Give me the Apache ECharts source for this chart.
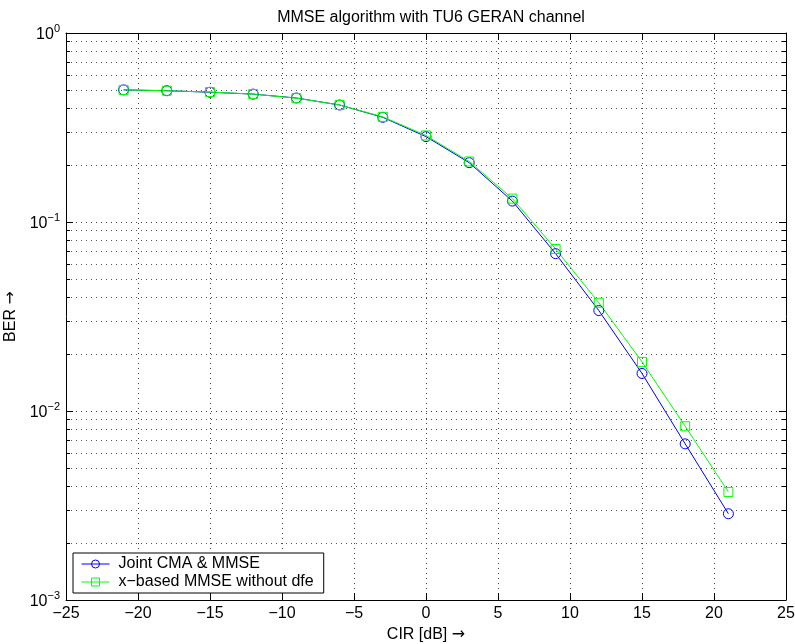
<!DOCTYPE html>
<html>
<head>
<meta charset="utf-8">
<script src="https://cdn.jsdelivr.net/npm/echarts@6/dist/echarts.min.js"></script>
<style>html,body{margin:0;padding:0;background:#fff}#c{width:795px;height:644px}</style>
</head>
<body>
<div id="c"></div>
<script>
var cir = [-21, -18, -15, -12, -9, -6, -3, 0, 3, 6, 9, 12, 15, 18, 21];
var berJoint = [0.50, 0.495, 0.486, 0.475, 0.453, 0.416, 0.358, 0.283, 0.206, 0.129, 0.068, 0.034, 0.0158, 0.0067, 0.00286];
var berXbased = [0.50, 0.495, 0.487, 0.475, 0.452, 0.416, 0.360, 0.287, 0.209, 0.133, 0.072, 0.0374, 0.0182, 0.0083, 0.00373];
var seriesNames = ['Joint CMA & MMSE', 'x\u2212based MMSE without dfe'];
var titleText = 'MMSE algorithm with TU6 GERAN channel';
var xName = 'CIR [dB] {a|\u2192}';
var yName = 'BER {a|\u2192}';

var FONT = 'Liberation Sans, Arial, Helvetica, sans-serif';
var FS = 16;
function pairs(xs, ys) { return xs.map(function (x, i) { return [x, ys[i]]; }); }
function minus(s) { return String(s).replace('-', '\u2212'); }
var arrowRich = { a: { fontFamily: 'DejaVu Sans', fontSize: 16, color: '#000' } };

var gridLine = { show: true, lineStyle: { color: '#444', width: 1, type: [1, 4] } };
var chart = echarts.init(document.getElementById('c'), null, { renderer: 'canvas' });
chart.setOption({
  animation: false,
  backgroundColor: '#fff',
  textStyle: { fontFamily: FONT },
  title: {
    text: titleText, left: 426, top: 5, textAlign: 'center',
    textStyle: { fontFamily: FONT, fontSize: FS, fontWeight: 'normal', color: '#000' }
  },
  grid: { left: 66, top: 33, width: 720, height: 567, containLabel: false, outerBoundsMode: 'none' },
  legend: {
    orient: 'vertical', left: 73, top: 553,
    backgroundColor: '#fff', borderColor: '#000', borderWidth: 1,
    padding: [3, 10, 3, 8], itemGap: 2, itemWidth: 28, itemHeight: 10,
    lineStyle: { width: 1 },
    itemStyle: { borderWidth: 1 },
    textStyle: { fontFamily: FONT, fontSize: FS, color: '#000', padding: [0, 0, 0, 4] },
    data: seriesNames
  },
  xAxis: [{
    type: 'value', min: -25, max: 25, interval: 5,
    name: xName, nameLocation: 'middle', nameGap: 23,
    nameTextStyle: { fontFamily: FONT, fontSize: FS, color: '#000', rich: arrowRich },
    axisLine: { show: true, onZero: false, lineStyle: { color: '#000', width: 1 } },
    axisTick: { show: true, inside: true, length: 7, lineStyle: { color: '#000' } },
    axisLabel: { margin: 6, fontFamily: FONT, fontSize: FS, color: '#000', formatter: function (v) { return minus(v); } },
    splitLine: gridLine
  }, {
    type: 'value', min: -25, max: 25, interval: 5, position: 'top',
    axisLine: { show: true, onZero: false, lineStyle: { color: '#000', width: 1 } },
    axisTick: { show: true, inside: true, length: 7, lineStyle: { color: '#000' } },
    axisLabel: { show: false }, splitLine: { show: false }
  }],
  yAxis: [{
    type: 'log', logBase: 10, min: 0.001, max: 1,
    name: yName, nameLocation: 'middle', nameGap: 40,
    nameTextStyle: { fontFamily: FONT, fontSize: FS, color: '#000', rich: arrowRich },
    axisLine: { show: true, onZero: false, lineStyle: { color: '#000', width: 1 } },
    axisTick: { show: true, inside: true, length: 7, lineStyle: { color: '#000' } },
    minorTick: { show: true, splitNumber: 9, length: 4, lineStyle: { color: '#000' } },
    axisLabel: {
      margin: 6, fontFamily: FONT, color: '#000',
      formatter: function (v) { var e = Math.round(Math.log10(v)); return '{b|10}{s|' + minus(e) + '}'; },
      rich: {
        b: { fontFamily: FONT, fontSize: FS, color: '#000', verticalAlign: 'bottom' },
        s: { fontFamily: FONT, fontSize: 11, color: '#000', verticalAlign: 'bottom', padding: [0, 0, 9, 0] }
      }
    },
    splitLine: gridLine,
    minorSplitLine: { show: true, lineStyle: { color: '#555', width: 1, type: [1, 4] } }
  }, {
    type: 'log', logBase: 10, min: 0.001, max: 1, position: 'right',
    axisLine: { show: true, onZero: false, lineStyle: { color: '#000', width: 1 } },
    axisTick: { show: true, inside: true, length: 7, lineStyle: { color: '#000' } },
    minorTick: { show: true, splitNumber: 9, length: 4, lineStyle: { color: '#000' } },
    axisLabel: { show: false }, splitLine: { show: false }
  }],
  series: [{
    name: seriesNames[0], type: 'line', data: pairs(cir, berJoint),
    symbol: 'circle', symbolSize: 10, showAllSymbol: true,
    lineStyle: { color: '#0000ff', width: 1 },
    itemStyle: { color: 'rgba(0,0,0,0)', borderColor: '#0000ff', borderWidth: 1 }
  }, {
    name: seriesNames[1], type: 'line', data: pairs(cir, berXbased),
    symbol: 'rect', symbolSize: 9, showAllSymbol: true,
    lineStyle: { color: '#00ff00', width: 1 },
    itemStyle: { color: 'rgba(0,0,0,0)', borderColor: '#00ff00', borderWidth: 1 }
  }]
});
</script>
</body>
</html>
